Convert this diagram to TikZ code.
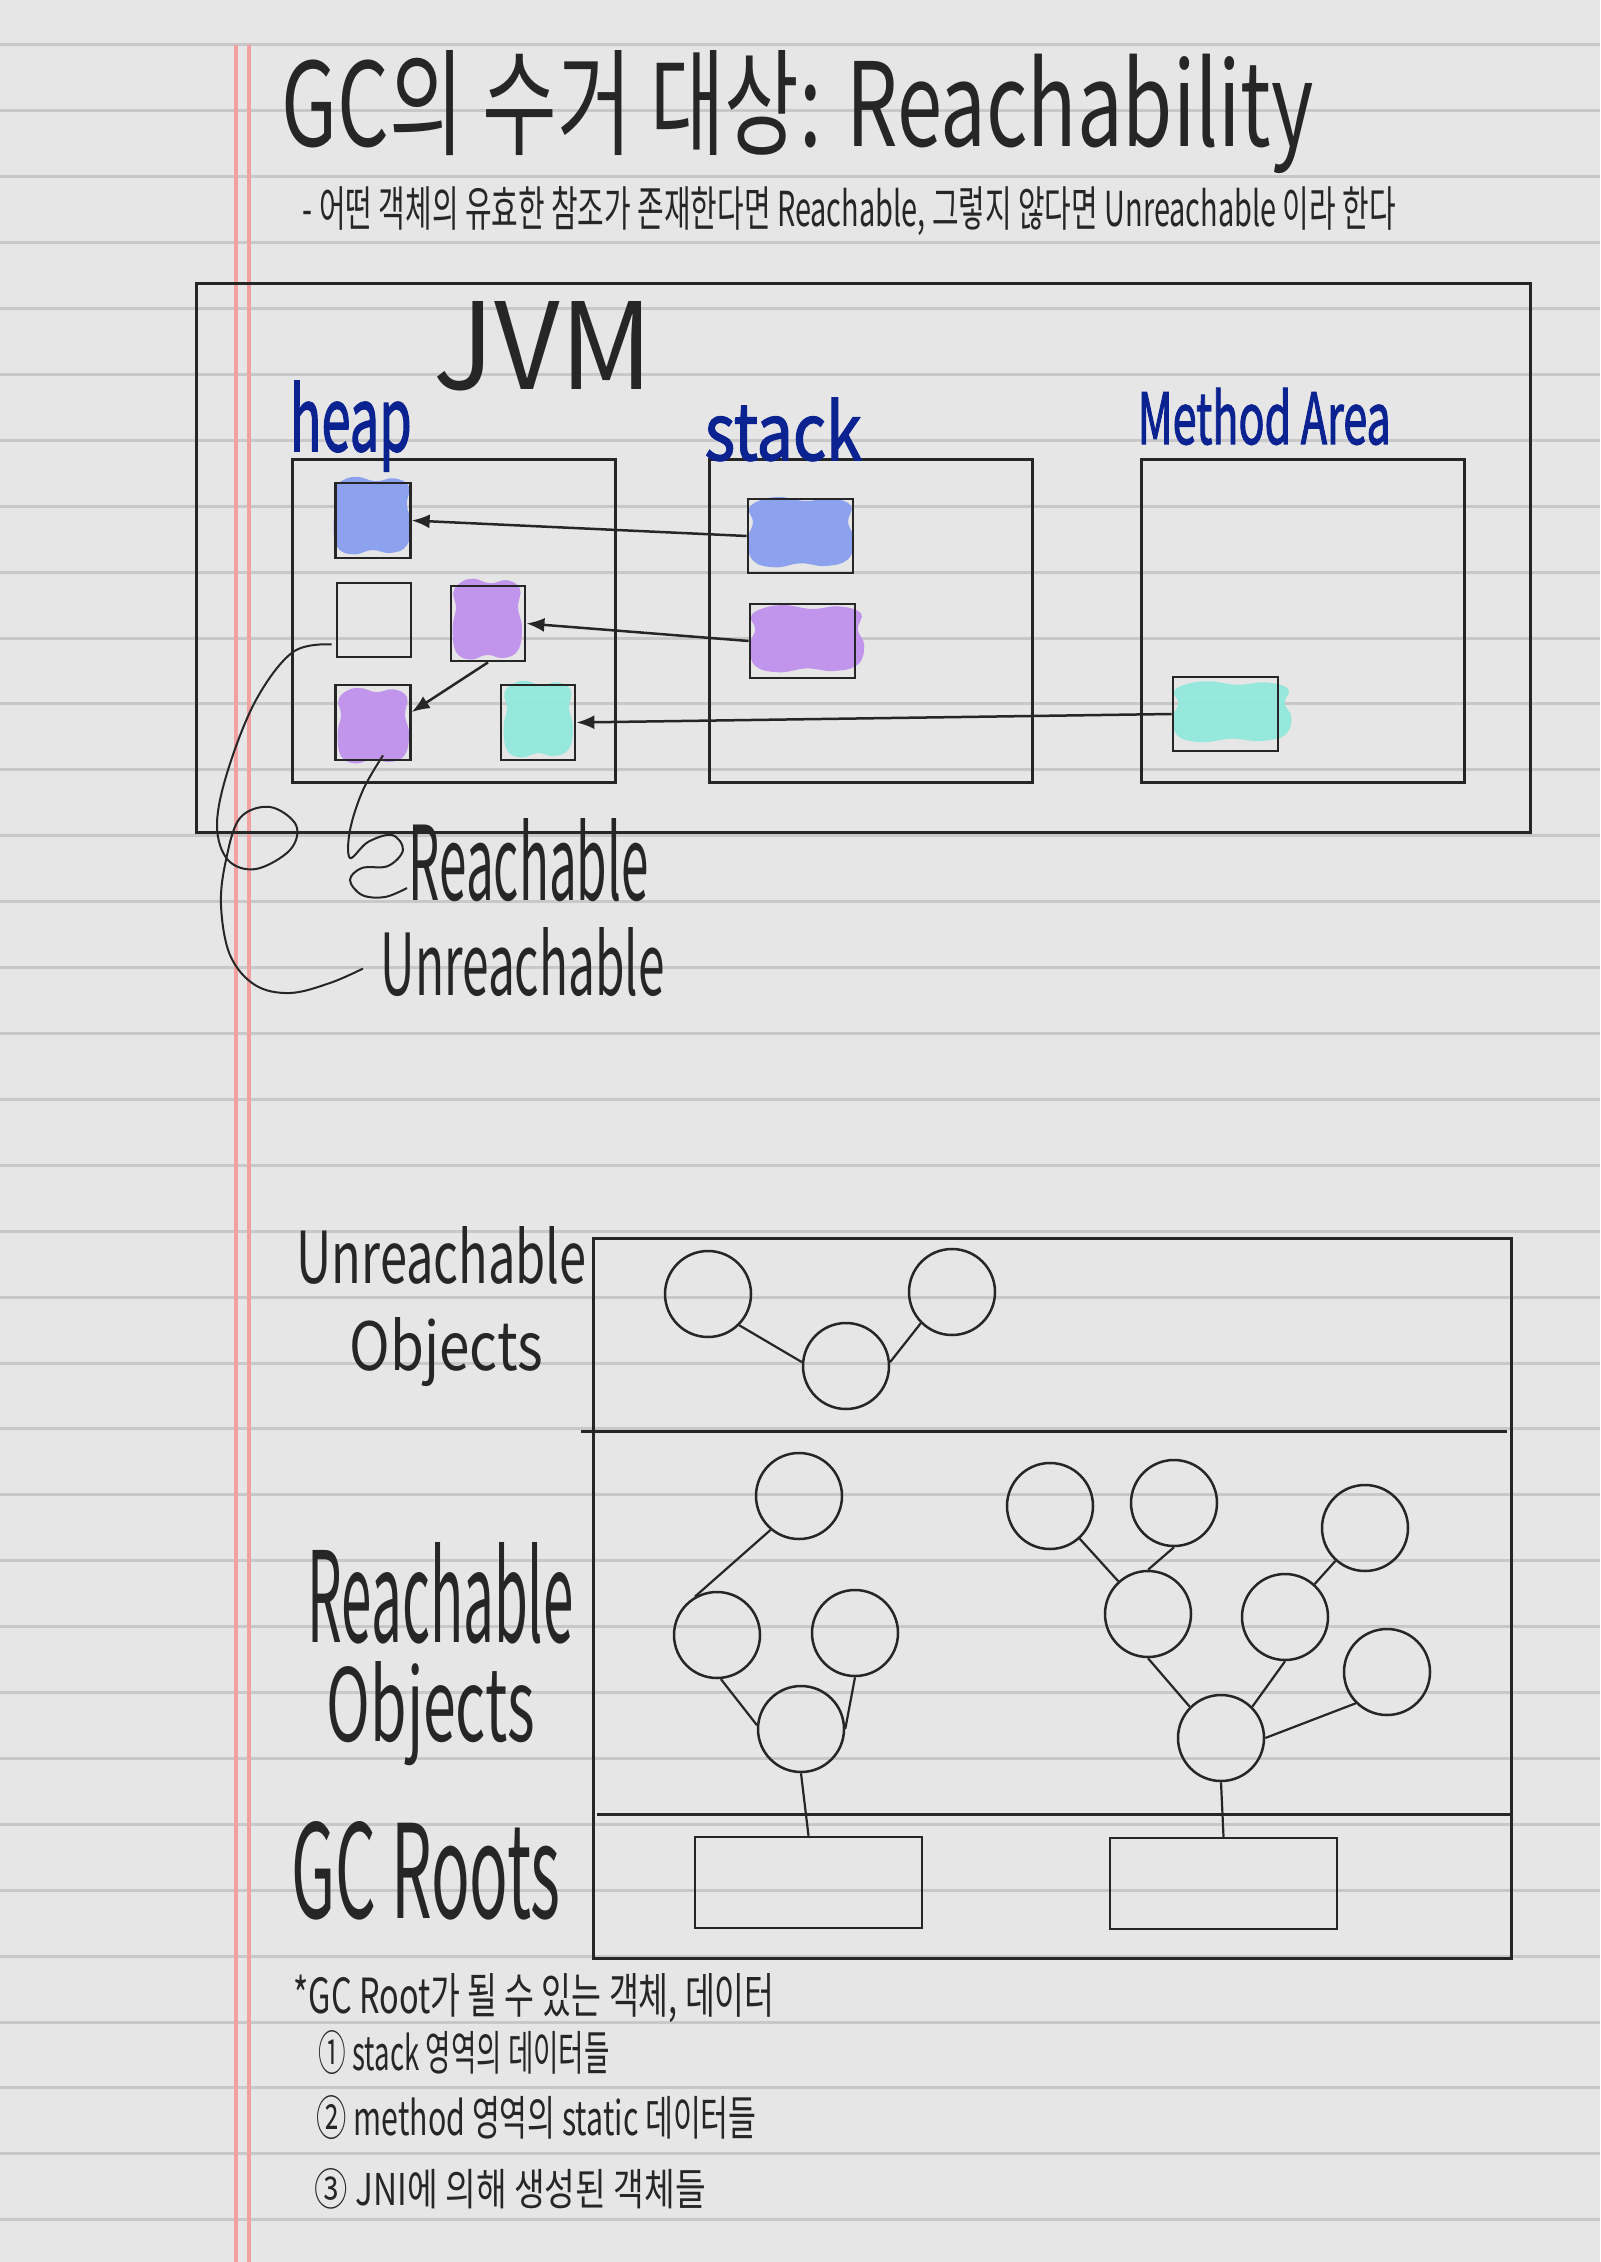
\documentclass[tikz,border=0pt]{standalone}
\usepackage{fontspec}
\usepackage{graphicx}
\setmainfont{Noto Sans CJK KR}
\newfontfamily\penfont[FakeBold=2]{Noto Sans CJK KR}
\usetikzlibrary{arrows.meta,positioning,calc}
\definecolor{paper}{HTML}{E6E6E6}
\definecolor{ruleline}{HTML}{C8C8C8}
\definecolor{marginred}{HTML}{F2A0A0}
\definecolor{ink}{HTML}{262626}
\definecolor{penblue}{HTML}{0B2291}
\definecolor{blobblue}{HTML}{889FF0}
\definecolor{blobpurple}{HTML}{C191EE}
\definecolor{blobteal}{HTML}{92E8DC}
\newcommand{\fitto}[3]{\resizebox{#1}{#2}{#3}}
% colour scribble: colour, left, top, width, height
\newcommand{\scribble}[5]{%
  \begin{scope}[shift={(#2,#3)}, xscale=#4, yscale=#5]
    \fill[#1, blob] plot[smooth cycle, tension=0.7] coordinates
      {(0.1,0.02) (0.3,-0.03) (0.55,0.03) (0.8,-0.01) (1.0,0.1) (0.97,0.35) (1.03,0.6)
       (0.97,0.9) (0.75,1.0) (0.5,0.96) (0.25,1.02) (0.03,0.92) (-0.02,0.6) (0.03,0.35) (-0.01,0.15)};
  \end{scope}}
\tikzset{
  % Paper
  rule line/.style={ruleline, line width=0.3mm},
  margin line/.style={marginred, line width=0.32mm},
  % Memory areas
  region box/.style={rectangle, draw=ink, line width=0.3mm, inner sep=0pt},
  slot box/.style={rectangle, draw=ink, line width=0.28mm, inner sep=0pt},
  blob/.style={opacity=0.95},
  ref arrow/.style={-{Latex[length=1.8mm,width=1.4mm]}, draw=ink, line width=0.25mm},
  hand curve/.style={draw=ink, line width=0.2mm},
  % Object graph
  obj node/.style={circle, draw=ink, line width=0.25mm, minimum size=8.6mm, inner sep=0pt},
  root node/.style={rectangle, draw=ink, line width=0.25mm, inner sep=0pt, minimum width=22.7mm, minimum height=9.1mm},
  obj edge/.style={draw=ink, line width=0.22mm},
  % Text
  hand text/.style={anchor=base west, inner sep=0pt, text=ink},
  area label/.style={anchor=base west, inner sep=0pt, text=penblue, font=\penfont},
}

\begin{document}
\begin{tikzpicture}[x=0.1mm, y=-0.1mm]
% Paper
\fill[paper] (0,0) rectangle (1600,2262);
\useasboundingbox (0,0) rectangle (1600,2262);
\foreach \k in {0,...,33}
  \draw[rule line] (0,45+65.9*\k) -- (1600,45+65.9*\k);
\draw[margin line] (236,45) -- (236,2262);
\draw[margin line] (249,45) -- (249,2262);

% Title
\node[hand text] (title) at (281,147) {\fitto{103.2mm}{9.6mm}{GC의 수거 대상: Reachability}};
\node[hand text] (subtitle) at (302,227) {\fitto{109.3mm}{4.0mm}{- 어떤 객체의 유효한 참조가 존재한다면 Reachable, 그렇지 않다면 Unreachable 이라 한다}};

% JVM memory areas
\node[region box, minimum width=133.4mm, minimum height=54.9mm] (jvm) at (863,558.5) {};
\node[hand text] (jvmlabel) at (433,390) {\fitto{21.9mm}{8.8mm}{JVM}};
\node[region box, minimum width=32.3mm, minimum height=32.3mm] (heap) at (453.5,621.5) {};
\node[region box, minimum width=32.3mm, minimum height=32.3mm] (stack) at (870.5,621.5) {};
\node[region box, minimum width=32.3mm, minimum height=32.3mm] (method) at (1302.5,621.5) {};
\node[area label] (heaplabel) at (289,451) {\fitto{12.2mm}{7.0mm}{heap}};
\node[area label] (stacklabel) at (704,460) {\fitto{15.7mm}{6.2mm}{stack}};
\node[area label] (methodlabel) at (1137,444) {\fitto{25.3mm}{5.6mm}{Method Area}};

% Colour scribbles
\scribble{blobblue}{335}{479}{74}{74}
\scribble{blobblue}{750}{499}{101}{67}
\scribble{blobpurple}{752}{607}{109}{64}
\scribble{blobpurple}{454}{581}{66}{77}
\scribble{blobpurple}{339}{690}{68}{72}
\scribble{blobteal}{505}{683}{66}{73}
\scribble{blobteal}{1175}{683}{113}{58}

% Object slots
\node[slot box, minimum width=7.45mm, minimum height=7.5mm] (A) at (373,520.5) {};
\node[slot box, minimum width=7.4mm, minimum height=7.4mm] (B) at (374,620) {};
\node[slot box, minimum width=7.4mm, minimum height=7.5mm] (C) at (488,623.5) {};
\node[slot box, minimum width=7.45mm, minimum height=7.5mm] (D) at (373,722.5) {};
\node[slot box, minimum width=7.4mm, minimum height=7.5mm] (E) at (538,722.5) {};
\node[slot box, minimum width=10.5mm, minimum height=7.4mm] (S1) at (800.5,536) {};
\node[slot box, minimum width=10.5mm, minimum height=7.4mm] (S2) at (802.5,641) {};
\node[slot box, minimum width=10.5mm, minimum height=7.4mm] (M1) at (1225.5,714) {};

% References
\draw[ref arrow] (S1.west) -- (A.east);
\draw[ref arrow] (S2.west) -- (C.east);
\draw[ref arrow] (C.south) -- (D.15);
\draw[ref arrow] (M1.west) -- (E.east);

% Hand notes
\node[hand text] (lblReach) at (408,900) {\fitto{24.0mm}{8.2mm}{Reachable}};
\node[hand text] (lblUnreach) at (380,995) {\fitto{28.4mm}{6.8mm}{Unreachable}};
\coordinate (us) at ($(B.south west)+(-4,-14)$);
\coordinate (ue) at ($(lblUnreach.west)+(-17,7)$);
\coordinate (rs) at ($(D.south)+(10,-6)$);
\coordinate (re) at ($(lblReach.base west)+(-1,-12)$);
\draw[hand curve] plot[smooth, tension=0.6] coordinates {(us) (293,652) (256,700) (228,770) (217,825) (228,860) (256,869) (290,850) (296,825) (270,807) (240,818) (226,860) (221,905) (230,955) (255,985) (290,993) (330,983) (ue)};
\draw[hand curve] plot[smooth, tension=0.6] coordinates {(rs) (363,790) (350,830) (350,858) (368,842) (392,835) (403,850) (388,866) (362,868) (350,880) (362,895) (385,897) (re)};

% Object graph
\node[region box, minimum width=91.8mm, minimum height=72mm] (objarea) at (1052,1598) {};
\draw[region box] (581,1431) -- (1507,1431);
\draw[region box] (597,1814) -- (1510,1814);
\node[hand text] (unreachA) at (296,1283) {\fitto{29.0mm}{5.7mm}{Unreachable}};
\node[hand text] (unreachB) at (349,1370) {\fitto{19.3mm}{5.3mm}{Objects}};
\node[hand text] (reachA) at (307,1642) {\fitto{26.6mm}{10.0mm}{Reachable}};
\node[hand text] (reachB) at (326,1741) {\fitto{20.8mm}{8.0mm}{Objects}};
\node[hand text] (rootsA) at (291,1918) {\fitto{26.9mm}{9.7mm}{GC Roots}};

% Unreachable objects
\node[obj node] (u1) at (708,1294) {};
\node[obj node] (u2) at (846,1366) {};
\node[obj node] (u3) at (952,1292) {};
\draw[obj edge] (u1.-45) -- (u2.175);
\draw[obj edge] (u2.5) -- (u3.225);

% Reachable objects, first root
\node[obj node] (r1) at (799,1496) {};
\node[obj node] (r2) at (717,1635) {};
\node[obj node] (r3) at (855,1633) {};
\node[obj node] (r4) at (801,1729) {};
\node[root node] (root1) at (808.5,1882.5) {};
\draw[obj edge] (r1.230) -- (r2.120);
\draw[obj edge] (r2.-85) -- (r4.175);
\draw[obj edge] (r3.south) -- (r4.east);
\draw[obj edge] (r4.south) -- (root1.north);

% Reachable objects, second root
\node[obj node] (t1) at (1050,1506) {};
\node[obj node] (t2) at (1174,1503) {};
\node[obj node] (t3) at (1365,1528) {};
\node[obj node] (t4) at (1148,1614) {};
\node[obj node] (t5) at (1285,1617) {};
\node[obj node] (t6) at (1387,1672) {};
\node[obj node] (t7) at (1221,1738) {};
\node[root node] (root2) at (1223.5,1883.5) {};
\draw[obj edge] (t1) -- (t4);
\draw[obj edge] (t2.south) -- (t4.north);
\draw[obj edge] (t3) -- (t5);
\draw[obj edge] (t4.south) -- (t7.135);
\draw[obj edge] (t5.south) -- (t7.45);
\draw[obj edge] (t6.225) -- (t7.east);
\draw[obj edge] (t7.south) -- (root2.north);

% GC root list
\node[hand text] (note0) at (293,2013) {\fitto{48.1mm}{4.0mm}{*GC Root가 될 수 있는 객체, 데이터}};
\node[hand text] (note1) at (318,2070) {\fitto{29.1mm}{4.0mm}{① stack 영역의 데이터들}};
\node[hand text] (note2) at (316,2135) {\fitto{44.0mm}{4.0mm}{② method 영역의 static 데이터들}};
\node[hand text] (note3) at (314,2205) {\fitto{39.1mm}{3.7mm}{③ JNI에 의해 생성된 객체들}};
\end{tikzpicture}
\end{document}
